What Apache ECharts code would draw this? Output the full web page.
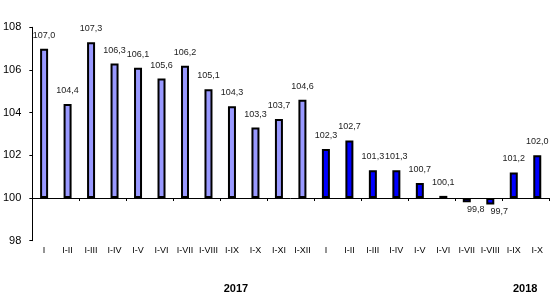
<!DOCTYPE html>
<html>
<head>
<meta charset="utf-8">
<script src="https://cdn.jsdelivr.net/npm/echarts@6/dist/echarts.min.js"></script>
<style>
html,body{margin:0;padding:0;background:#fff;}
#c{width:557px;height:305px;}
</style>
</head>
<body>
<div id="c"></div>
<script>
// Data
var categories2017 = ['I','I-II','I-III','I-IV','I-V','I-VI','I-VII','I-VIII','I-IX','I-X','I-XI','I-XII'];
var categories2018 = ['I','I-II','I-III','I-IV','I-V','I-VI','I-VII','I-VIII','I-IX','I-X'];
var values2017 = [107.0,104.4,107.3,106.3,106.1,105.6,106.2,105.1,104.3,103.3,103.7,104.6];
var values2018 = [102.3,102.7,101.3,101.3,100.7,100.1,99.8,99.7,101.2,102.0];
var yTicks = [98,100,102,104,106,108];
var baseValue = 100;
var yearLabels = ['2017','2018'];

var categories = categories2017.concat(categories2018);
var allValues = values2017.concat(values2018);
var colors = ['#9999FF','#0000FF'];

var seriesData = allValues.map(function(v,i){
  var neg = v < baseValue;
  return {
    value: +(v - baseValue).toFixed(2),
    orig: v,
    itemStyle: {color: i < categories2017.length ? colors[0] : colors[1]},
    label: neg ? {position:'bottom', distance:3, offset:[9,0]} : {position:'top', distance:9}
  };
});

var chart = echarts.init(document.getElementById('c'), null, {renderer:'canvas'});
chart.setOption({
  animation:false,
  backgroundColor:'#fff',
  grid:{left:32,right:8,top:27.3,bottom:64.3},
  xAxis:[{
    type:'category',
    data:categories,
    axisLine:{onZero:true,lineStyle:{color:'#000',width:1}},
    axisTick:{show:true,length:3,lineStyle:{color:'#000'}},
    axisLabel:{show:false}
  },{
    type:'category',
    data:categories,
    position:'bottom',
    axisLine:{show:false},
    axisTick:{show:false},
    axisLabel:{show:true,interval:0,margin:5,fontSize:9,color:'#000',fontFamily:'Liberation Sans, Arial, sans-serif'}
  }],
  yAxis:{
    type:'value',
    min:yTicks[0]-baseValue,
    max:yTicks[yTicks.length-1]-baseValue,
    interval:2,
    splitLine:{show:false},
    axisLine:{show:true,lineStyle:{color:'#000',width:1}},
    axisTick:{show:true,length:3,inside:false,lineStyle:{color:'#000'}},
    axisLabel:{margin:11,fontSize:11,color:'#000',fontFamily:'Liberation Sans, Arial, sans-serif',
      formatter:function(v){return String(v+baseValue);}}
  },
  series:[{
    type:'bar',
    xAxisIndex:0,
    data:seriesData,
    barWidth:8,
    itemStyle:{borderColor:'#000',borderWidth:2},
    label:{show:true,fontSize:9,color:'#222',fontFamily:'Liberation Sans, Arial, sans-serif',
      formatter:function(p){return p.data.orig.toFixed(1).replace('.',',');}}
  }],
  graphic:[
    {type:'text',left:236.7-13,top:283,style:{text:yearLabels[0],font:'bold 11px Liberation Sans, Arial, sans-serif',fill:'#000'}},
    {type:'text',left:526-13,top:283,style:{text:yearLabels[1],font:'bold 11px Liberation Sans, Arial, sans-serif',fill:'#000'}}
  ]
});
</script>
</body>
</html>
